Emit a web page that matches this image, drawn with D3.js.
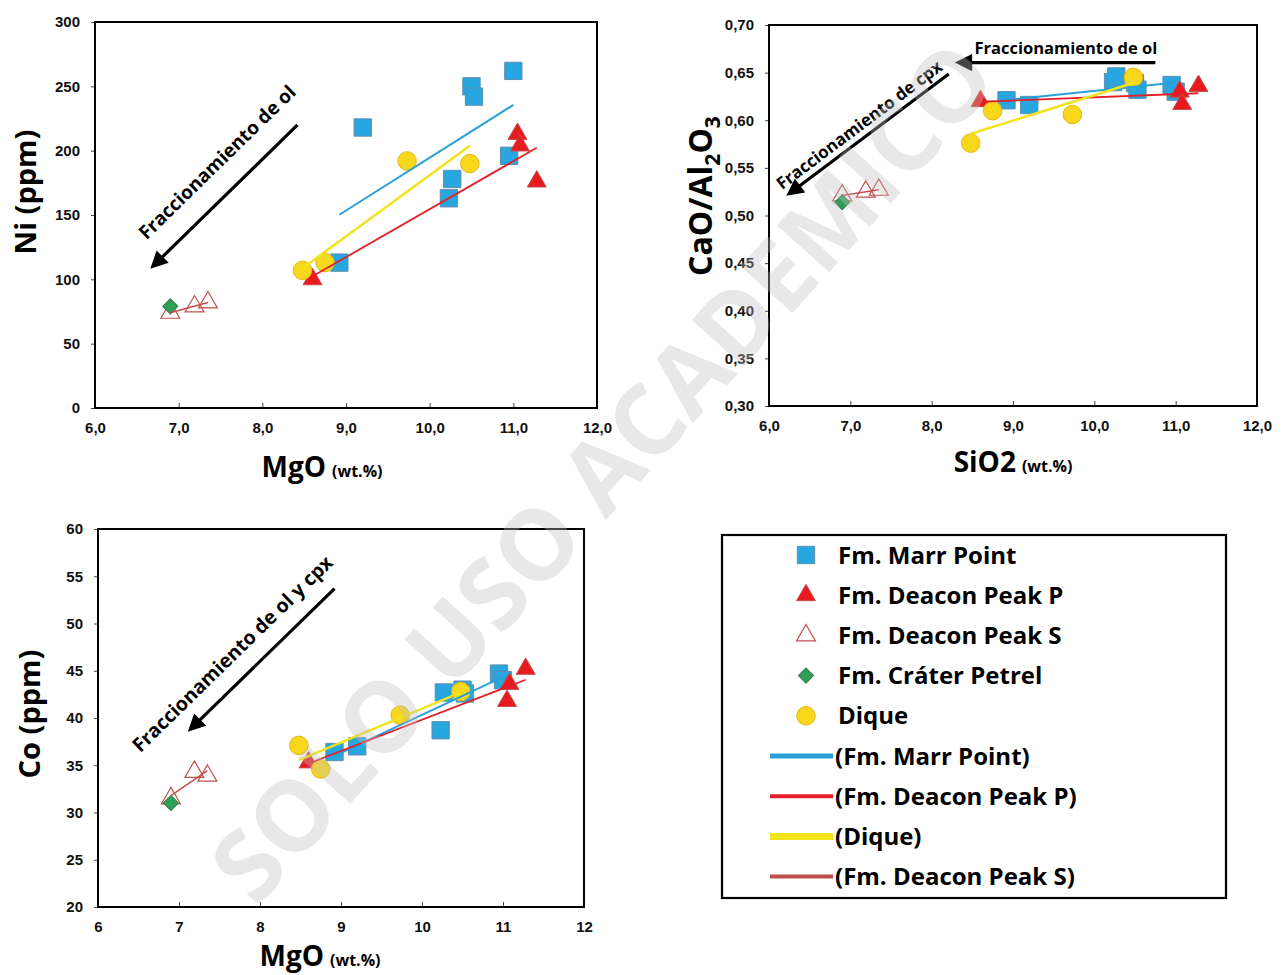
<!DOCTYPE html>
<html>
<head>
<meta charset="utf-8">
<script src="https://cdn.jsdelivr.net/npm/d3@7"></script>
<style>
  body { margin: 0; background: #fff; }
  svg { display: block; font-family: "Open Sans", sans-serif; }
  .tick text { font-weight: 700; font-size: 15px; fill: #111; }
  .tick line { stroke: #444; }
</style>
</head>
<body>
<script>
(function () {

  // MgO (wt.%) of each sample, same x for the three panels
  const marrMgO     = [8.92, 9.2, 10.23, 10.27, 10.5, 10.53, 10.95, 11.0];
  const marrNi      = [113, 218, 163, 178, 250, 242, 196, 262];
  const marrCaoAl   = [0.621, 0.616, 0.640, 0.646, 0.639, 0.632, 0.637, 0.630];
  const marrCo      = [36.4, 37.0, 38.7, 42.7, 43.0, 42.6, 44.7, 44.0];

  const deaconPMgO   = [8.6, 11.05, 11.08, 11.28];
  const deaconPNi    = [100, 213, 204, 176];
  const deaconPCaoAl = [0.620, 0.630, 0.617, 0.636];
  const deaconPCo    = [35.3, 41.8, 43.6, 45.2];

  const deaconSMgO   = [6.9, 7.19, 7.35];
  const deaconSNi    = [74, 79, 82];
  const deaconSCaoAl = [0.521, 0.525, 0.527];
  const deaconSCo    = [31.5, 34.3, 33.9];

  const craterMgO   = [6.9];
  const craterNi    = [79];
  const craterCaoAl = [0.514];
  const craterCo    = [31.0];

  const diqueMgO   = [8.48, 8.75, 9.73, 10.48];
  const diqueNi    = [107, 113, 192, 190];
  const diqueCaoAl = [0.576, 0.610, 0.606, 0.645];
  const diqueCo    = [37.1, 34.6, 40.3, 42.8];

  // tick values
  const mgoTicks   = [6, 7, 8, 9, 10, 11, 12];
  const niTicks    = [0, 50, 100, 150, 200, 250, 300];
  const caoAlTicks = [0.30, 0.35, 0.40, 0.45, 0.50, 0.55, 0.60, 0.65, 0.70];
  const coTicks    = [20, 25, 30, 35, 40, 45, 50, 55, 60];

  // arrows: [x1, y1, x2, y2] in data units, head at (x2, y2)
  const niArrow     = [8.42, 220, 6.72, 112];
  const caoArrowOl  = [10.75, 0.6605, 8.37, 0.6605];
  const caoArrowCpx = [8.21, 0.6486, 6.28, 0.525];
  const coArrow     = [8.92, 53.7, 7.17, 39.06];

  const legendLabels = ['Fm. Marr Point', 'Fm. Deacon Peak P', 'Fm. Deacon Peak S', 'Fm. Cráter Petrel', 'Dique'];
  const trendLabels  = ['(Fm. Marr Point)', '(Fm. Deacon Peak P)', '(Dique)', '(Fm. Deacon Peak S)'];

  const locale = d3.formatLocale({ decimal: ',', thousands: '.', grouping: [3], currency: ['', ''] });
  const fmt1 = locale.format('.1f');
  const fmt2 = locale.format('.2f');

  let groups = [
    { key: 'marr', mgo: marrMgO, ni: marrNi, cao: marrCaoAl, co: marrCo,
      symbol: d3.symbolSquare, size: 300, rotate: 0, fill: '#27a6df', stroke: '#5d8db0', sw: 1,
      trend: '#2b9fd8', trendWidth: 2, legendWidth: 5 },
    { key: 'deaconP', mgo: deaconPMgO, ni: deaconPNi, cao: deaconPCaoAl, co: deaconPCo,
      symbol: d3.symbolTriangle, size: 155, rotate: 0, fill: '#e8191f', stroke: '#c0504d', sw: 1,
      trend: '#e32028', trendWidth: 1.8, legendWidth: 4 },
    { key: 'deaconS', mgo: deaconSMgO, ni: deaconSNi, cao: deaconSCaoAl, co: deaconSCo,
      symbol: d3.symbolTriangle, size: 155, rotate: 0, fill: 'none', stroke: '#c0504d', sw: 1.2,
      trend: '#c0504d', trendWidth: 1.5, legendWidth: 4 },
    { key: 'crater', mgo: craterMgO, ni: craterNi, cao: craterCaoAl, co: craterCo,
      symbol: d3.symbolSquare, size: 115, rotate: 45, fill: '#2f9e57', stroke: '#3a7d4f', sw: 1,
      trend: null },
    { key: 'dique', mgo: diqueMgO, ni: diqueNi, cao: diqueCaoAl, co: diqueCo,
      symbol: d3.symbolCircle, size: 270, rotate: 0, fill: '#f9d71c', stroke: '#e3b90e', sw: 1,
      trend: '#f2e41c', trendWidth: 2.5, legendWidth: 7 },
  ];

  let byKey = {};
  groups.forEach(g => byKey[g.key] = g);
  let trendOrder = ['marr', 'deaconP', 'dique', 'deaconS'];

  let panels = [
    { field: 'ni', left: 95, right: 597, top: 22, bottom: 408,
      yDomain: [0, 300], yTicks: niTicks, yFormat: d3.format('d'), xFormat: fmt1,
      xTitle: 'MgO', xTitleX: 322, xTitleY: 477,
      yTitle: [['Ni (ppm)', 0]], yTitleX: 36, yTitleY: 192, yTitleSize: 29,
      notes: [{ arrow: niArrow, text: 'Fraccionamiento de ol', tx: 7.46, ty: 191, size: 19 }] },
    { field: 'cao', left: 769, right: 1257, top: 25, bottom: 406,
      yDomain: [0.30, 0.70], yTicks: caoAlTicks, yFormat: fmt2, xFormat: fmt1,
      xTitle: 'SiO2', xTitleX: 1013, xTitleY: 472,
      yTitle: [['CaO/Al', 0], ['2', 1], ['O', 0], ['3', 1]], yTitleX: 712, yTitleY: 196, yTitleSize: 32,
      notes: [
        { arrow: caoArrowOl, text: 'Fraccionamiento de ol', tx: 9.65, ty: 0.6755, size: 16.5, flat: true },
        { arrow: caoArrowCpx, text: 'Fraccionamiento de cpx', tx: 7.11, ty: 0.595, size: 17 },
      ] },
    { field: 'co', left: 98, right: 584, top: 529, bottom: 907,
      yDomain: [20, 60], yTicks: coTicks, yFormat: d3.format('d'), xFormat: d3.format('d'),
      xTitle: 'MgO', xTitleX: 320, xTitleY: 966,
      yTitle: [['Co (ppm)', 0]], yTitleX: 40, yTitleY: 714, yTitleSize: 29,
      notes: [{ arrow: coArrow, text: 'Fraccionamiento de ol y cpx', tx: 7.66, ty: 46.8, size: 19.5 }] },
  ];

  let svg = d3.select('body').append('svg')
      .attr('width', 1283)
      .attr('height', 975);

  svg.append('defs').append('marker')
      .attr('id', 'head')
      .attr('viewBox', '0 0 10 10')
      .attr('refX', 6)
      .attr('refY', 5)
      .attr('markerWidth', 6)
      .attr('markerHeight', 5.4)
      .attr('orient', 'auto')
    .append('path')
      .attr('d', 'M0,0 L10,5 L0,10 z')
      .attr('fill', '#000');

  function fit(xs, ys) {
    let mx = d3.mean(xs), my = d3.mean(ys);
    let b = d3.sum(xs, (v, i) => (v - mx) * (ys[i] - my)) / d3.sum(xs, v => (v - mx) * (v - mx));
    return v => my + b * (v - mx);
  }

  function marker(sel, g) {
    sel.attr('d', d3.symbol().type(g.symbol).size(g.size)())
      .attr('fill', g.fill)
      .attr('stroke', g.stroke)
      .attr('stroke-width', g.sw);
  }

  function drawPanel(p) {
    let x = d3.scaleLinear().domain([6, 12]).range([p.left, p.right]);
    let y = d3.scaleLinear().domain(p.yDomain).range([p.bottom, p.top]);
    let g = svg.append('g');

    g.append('g')
      .attr('transform', 'translate(0,' + p.bottom + ')')
      .call(d3.axisBottom(x).tickValues(mgoTicks).tickFormat(p.xFormat).tickSize(-5).tickPadding(14))
      .call(a => a.select('.domain').remove())
      .call(a => a.selectAll('text').attr('font-family', null));

    g.append('g')
      .attr('transform', 'translate(' + p.left + ',0)')
      .call(d3.axisLeft(y).tickValues(p.yTicks).tickFormat(p.yFormat).tickSize(4).tickPadding(11))
      .call(a => a.select('.domain').remove())
      .call(a => a.selectAll('text').attr('font-family', null));

    g.append('rect')
      .attr('x', p.left).attr('y', p.top)
      .attr('width', p.right - p.left).attr('height', p.bottom - p.top)
      .attr('fill', 'none').attr('stroke', '#000').attr('stroke-width', 2);

    // markers
    for (let grp of groups) {
      g.append('g').selectAll('path').data(grp.mgo)
        .enter().append('path')
        .attr('transform', (d, i) => 'translate(' + x(d) + ',' + y(grp[p.field][i]) + ') rotate(' + grp.rotate + ')')
        .call(marker, grp);
    }

    // linear trend lines over each group's range
    for (let k of trendOrder) {
      let grp = byKey[k];
      let f = fit(grp.mgo, grp[p.field]);
      let ext = d3.extent(grp.mgo);
      g.append('line')
        .attr('x1', x(ext[0])).attr('y1', y(f(ext[0])))
        .attr('x2', x(ext[1])).attr('y2', y(f(ext[1])))
        .attr('stroke', grp.trend)
        .attr('stroke-width', grp.trendWidth);
    }

    // arrows and notes
    for (let n of p.notes) {
      let a = n.arrow;
      let x1 = x(a[0]), y1 = y(a[1]), x2 = x(a[2]), y2 = y(a[3]);
      g.append('line')
        .attr('x1', x1).attr('y1', y1).attr('x2', x2).attr('y2', y2)
        .attr('stroke', '#000').attr('stroke-width', 3.2)
        .attr('marker-end', 'url(#head)');
      let ang = n.flat ? 0 : Math.atan2(y1 - y2, x1 - x2) * 180 / Math.PI;
      g.append('text')
        .attr('transform', 'translate(' + x(n.tx) + ',' + y(n.ty) + ') rotate(' + ang + ')')
        .attr('text-anchor', 'middle')
        .attr('dy', '0.35em')
        .attr('font-size', n.size)
        .attr('font-weight', 700)
        .text(n.text);
    }

    // axis titles
    let xt = g.append('text')
      .attr('x', p.xTitleX).attr('y', p.xTitleY)
      .attr('text-anchor', 'middle')
      .attr('font-weight', 700);
    xt.append('tspan').attr('font-size', 28).text(p.xTitle);
    xt.append('tspan').attr('font-size', 16).attr('dx', 6).text('(wt.%)');

    let yt = g.append('text')
      .attr('transform', 'translate(' + p.yTitleX + ',' + p.yTitleY + ') rotate(-90)')
      .attr('text-anchor', 'middle')
      .attr('font-size', p.yTitleSize)
      .attr('font-weight', 700);
    p.yTitle.forEach((part, i) => {
      let t = yt.append('tspan').text(part[0]);
      if (part[1]) t.attr('font-size', 21).attr('dy', 8);
      else if (i > 0) t.attr('dy', -8);
    });
  }

  panels.forEach(drawPanel);

  function addLegend() {
    let lg = svg.append('g').attr('class', 'legend');
    lg.append('rect')
      .attr('x', 722).attr('y', 535).attr('width', 504).attr('height', 363)
      .attr('fill', '#fff').attr('stroke', '#000').attr('stroke-width', 2.2);

    let row = i => 555 + i * 40.2;

    groups.forEach((grp, i) => {
      lg.append('path')
        .attr('transform', 'translate(806,' + row(i) + ') rotate(' + grp.rotate + ')')
        .call(marker, grp);
      lg.append('text')
        .attr('x', 838).attr('y', row(i)).attr('dy', '0.36em')
        .attr('font-size', 24).attr('font-weight', 700)
        .text(legendLabels[i]);
    });

    trendOrder.forEach((k, j) => {
      let grp = byKey[k];
      let i = j + 5;
      lg.append('line')
        .attr('x1', 770).attr('x2', 833).attr('y1', row(i)).attr('y2', row(i))
        .attr('stroke', grp.trend).attr('stroke-width', grp.legendWidth);
      lg.append('text')
        .attr('x', 835).attr('y', row(i)).attr('dy', '0.36em')
        .attr('font-size', 24).attr('font-weight', 700)
        .text(trendLabels[j]);
    });
  }

  addLegend();

  // watermark laid over the figure
  svg.append('text')
    .attr('transform', 'translate(603,472) rotate(-48)')
    .attr('text-anchor', 'middle')
    .attr('dy', '0.35em')
    .attr('font-size', 98)
    .attr('font-weight', 700)
    .attr('fill', '#c0c0c0')
    .attr('fill-opacity', 0.36)
    .text('SOLO USO ACADEMICO');

})();
</script>
</body>
</html>
